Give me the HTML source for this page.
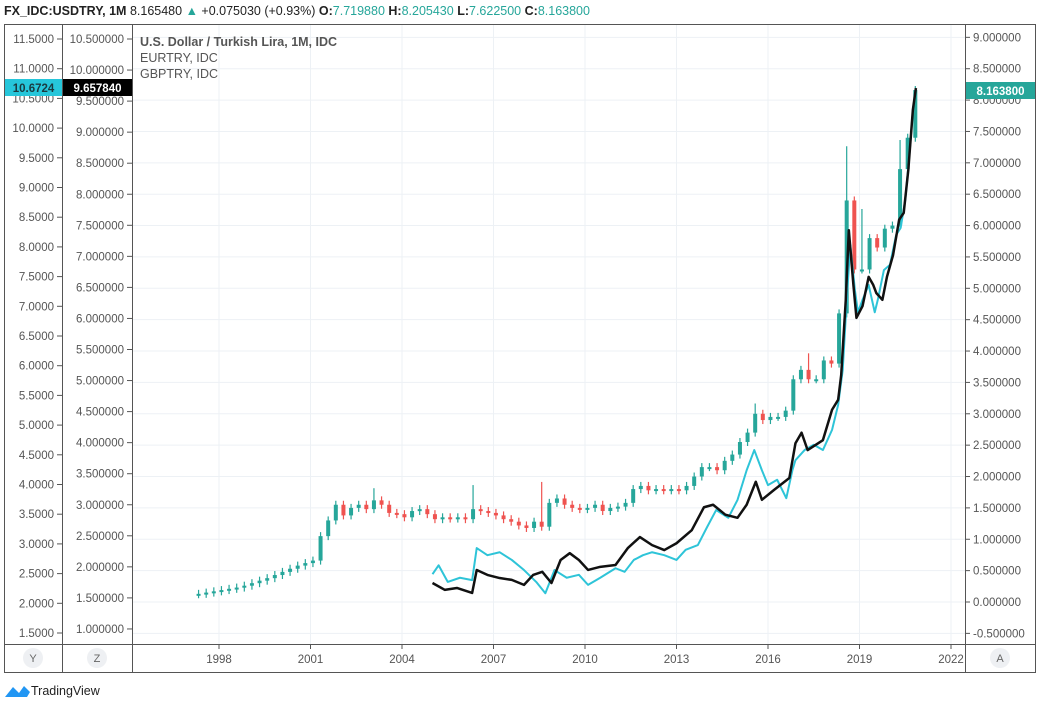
<!DOCTYPE html>
<html><head><meta charset="utf-8">
<style>
body{margin:0;width:1039px;height:703px;background:#fff;overflow:hidden;font-family:"Liberation Sans",sans-serif;}
svg{position:absolute;left:0;top:0;overflow:hidden}
</style></head>
<body>
<svg id="chart" width="1039" height="703"></svg>
<script>
// USDTRY quarterly closes (right axis), last candle at 2020.83
const usdEnd=2020.83;
const usdClose=[0.13,0.15,0.17,0.19,0.21,0.23,0.26,0.30,0.34,0.38,0.43,0.48,0.53,0.58,0.62,0.66,1.05,1.3,1.55,1.38,1.5,1.55,1.48,1.62,1.55,1.42,1.40,1.35,1.45,1.48,1.40,1.32,1.35,1.33,1.35,1.32,1.48,1.45,1.42,1.38,1.32,1.28,1.22,1.18,1.28,1.20,1.58,1.65,1.55,1.50,1.48,1.50,1.55,1.45,1.50,1.52,1.58,1.80,1.85,1.78,1.80,1.78,1.80,1.78,1.85,2.00,2.15,2.15,2.10,2.25,2.35,2.55,2.70,3.00,2.90,2.95,2.95,3.05,3.55,3.70,3.55,3.55,3.85,3.80,4.60,6.40,5.30,5.30,5.80,5.65,5.95,6.00,6.90,7.40,8.16];
const usdHighIdx=[85,87,92,36,45,23,73,80];
const usdHighVals=[7.2,6.2,7.3,1.8,1.85,1.75,3.1,3.9];
// EURTRY (Z axis)
const eurDates=[2005.0,2005.4,2005.8,2006.3,2006.45,2006.8,2007.2,2007.6,2008.0,2008.3,2008.6,2008.9,2009.2,2009.5,2009.8,2010.1,2010.5,2011.0,2011.4,2011.8,2012.2,2012.6,2013.0,2013.5,2013.9,2014.2,2014.6,2015.0,2015.3,2015.6,2015.8,2016.2,2016.7,2016.9,2017.1,2017.3,2017.8,2018.1,2018.3,2018.4,2018.55,2018.65,2018.8,2018.9,2019.1,2019.3,2019.45,2019.55,2019.75,2019.9,2020.1,2020.3,2020.45,2020.6,2020.75,2020.85];
const eurVals=[1.74,1.63,1.66,1.58,1.95,1.87,1.82,1.79,1.71,1.87,1.92,1.74,2.11,2.22,2.11,1.95,2.0,2.03,2.30,2.48,2.35,2.27,2.38,2.59,2.96,3.0,2.84,2.79,3.0,3.37,3.08,3.24,3.43,3.99,4.16,3.88,4.04,4.53,4.69,5.09,6.30,7.42,6.54,6.01,6.2,6.67,6.54,6.41,6.30,6.67,7.02,7.59,7.70,8.39,9.36,9.71];
// GBPTRY (Y axis)
const gbpDates=[2005.0,2005.2,2005.5,2005.9,2006.3,2006.45,2006.8,2007.2,2007.6,2008.0,2008.4,2008.7,2009.0,2009.4,2009.8,2010.1,2010.5,2011.0,2011.3,2011.6,2011.9,2012.2,2012.6,2013.0,2013.3,2013.7,2014.0,2014.3,2014.7,2015.0,2015.3,2015.55,2015.8,2016.0,2016.3,2016.6,2016.8,2016.9,2017.2,2017.5,2017.8,2018.1,2018.3,2018.45,2018.6,2018.7,2018.85,2018.95,2019.1,2019.3,2019.5,2019.6,2019.8,2020.0,2020.2,2020.35,2020.5,2020.65,2020.75,2020.85];
const gbpVals=[2.49,2.64,2.36,2.43,2.39,2.93,2.81,2.86,2.73,2.56,2.36,2.17,2.56,2.43,2.48,2.31,2.43,2.59,2.53,2.73,2.81,2.86,2.81,2.73,2.90,2.98,3.28,3.57,3.44,3.74,4.24,4.58,4.24,3.99,4.08,3.77,4.24,4.41,4.58,4.67,4.58,4.92,5.34,5.93,7.27,8.03,7.27,6.90,7.11,7.36,6.90,7.11,7.61,7.70,8.20,8.32,8.79,9.63,10.3,10.67];
const rightTicks=[9,8.5,8,7.5,7,6.5,6,5.5,5,4.5,4,3.5,3,2.5,2,1.5,1,0.5,0,-0.5];
const yTicks=[11.5,11,10.5,10,9.5,9,8.5,8,7.5,7,6.5,6,5.5,5,4.5,4,3.5,3,2.5,2,1.5];
const zTicks=[10.5,10,9.5,9,8.5,8,7.5,7,6.5,6,5.5,5,4.5,4,3.5,3,2.5,2,1.5,1];
const years=[1998,2001,2004,2007,2010,2013,2016,2019,2022];

const X=t=>219+(t-1998)*30.5;
const YR=v=>602-v*62.74;
const YZ=v=>39+(10.5-v)*62.1;
const YY=v=>39+(11.5-v)*59.4;
const svg=document.getElementById('chart');
const NS='http://www.w3.org/2000/svg';
function el(tag,attrs,parent){const e=document.createElementNS(NS,tag);for(const k in attrs)e.setAttribute(k,attrs[k]);(parent||svg).appendChild(e);return e;}
function txt(s,attrs,parent){const e=el('text',attrs,parent);e.textContent=s;return e;}

const defs=el('defs',{});
const cp=el('clipPath',{id:'plotclip'},defs);
el('rect',{x:133,y:25,width:832,height:619},cp);

// grid
const grid=el('g',{});


rightTicks.forEach(v=>el('line',{x1:132,x2:965,y1:YR(v),y2:YR(v),stroke:'#edf1f5','stroke-width':1},grid));
years.forEach(y=>el('line',{x1:X(y),x2:X(y),y1:24,y2:644,stroke:'#edf1f5','stroke-width':1},grid));

// frame
const fr=el('g',{stroke:'#555',fill:'none','stroke-width':1});


el('rect',{x:4.5,y:24.5,width:1031,height:648},fr);
[62.5,132.5,965.5].forEach(x=>el('line',{x1:x,x2:x,y1:24,y2:672},fr));
el('line',{x1:4,x2:1036,y1:644.5,y2:644.5},fr);

// axes
const fs={'font-size':11.5,fill:'#555','font-family':'Liberation Sans, sans-serif'};
const ya=el('g',{});


yTicks.forEach(v=>{el('line',{x1:57,x2:62,y1:YY(v),y2:YY(v),stroke:'#555'},ya);txt(v.toFixed(4),Object.assign({x:54,y:YY(v)+4,'text-anchor':'end'},fs),ya);});
const za=el('g',{});


zTicks.forEach(v=>{el('line',{x1:127,x2:132,y1:YZ(v),y2:YZ(v),stroke:'#555'},za);txt(v.toFixed(6),Object.assign({x:124,y:YZ(v)+4,'text-anchor':'end'},fs),za);});
const ra=el('g',{});


rightTicks.forEach(v=>{el('line',{x1:965,x2:970,y1:YR(v),y2:YR(v),stroke:'#555'},ra);txt(v.toFixed(6),Object.assign({x:973,y:YR(v)+4},fs),ra);});
const xa=el('g',{});


years.forEach(y=>{el('line',{x1:X(y),x2:X(y),y1:644,y2:649,stroke:'#555'},xa);txt(String(y),Object.assign({x:X(y),y:663,'text-anchor':'middle'},fs),xa);});

const plot=el('g',{'clip-path':'url(#plotclip)'});


// candles
const cg=el('g',{},plot);


const n=usdClose.length;
for(let i=0;i<n;i++){
  const t=usdEnd-(n-1-i)*0.25;
  const o=i?usdClose[i-1]:usdClose[0]*0.95,c=usdClose[i];
  const col=c>=o?'#26a69a':'#ef5350';
  const x=X(t);
  const hi_i=usdHighIdx.indexOf(i);
  const hi=hi_i>=0?usdHighVals[hi_i]:Math.max(o,c);
  const yTop=YR(Math.max(o,c)),yBot=YR(Math.min(o,c));
  el('line',{x1:x,x2:x,y1:YR(hi)-4,y2:yBot+4,stroke:col,'stroke-width':1.2},cg);
  el('rect',{x:x-2,y:yTop,width:4,height:Math.max(2,yBot-yTop),fill:col},cg);
}
// lines
function line(d,v,f,col,w,name){const p=el('polyline',{points:d.map((t,i)=>X(t)+','+f(v[i])).join(' '),fill:'none',stroke:col,'stroke-width':w,'stroke-linejoin':'round'},plot);

}
line(gbpDates,gbpVals,YY,'#2ec4d8',2,'gbptry-line');
line(eurDates,eurVals,YZ,'#111',2.5,'eurtry-line');

// price labels
function tag(x,y,w,bg,s,name,col){const g=el('g',{});


el('rect',{x:x,y:y-9,width:w,height:17,fill:bg},g);txt(s,{x:x+w/2,y:y+4,'text-anchor':'middle','font-size':11.5,'font-weight':'bold',fill:col||'#fff'},g);}
tag(5,88,57,'#26c6da','10.6724','gbp-price-label','#1a3a40');
tag(63,88,69,'#000','9.657840','eur-price-label');
tag(966,91,69,'#26a69a','8.163800','usd-price-label');

// legend
const lg=el('g',{'font-size':12.5,fill:'#555'});


txt('U.S. Dollar / Turkish Lira, 1M, IDC',{x:140,y:46,'font-weight':'bold'},lg);
txt('EURTRY, IDC',{x:140,y:62},lg);
txt('GBPTRY, IDC',{x:140,y:78},lg);

// header
const hd=el('text',{x:4,y:15,'font-size':12.5,fill:'#222'});


[['FX_IDC:USDTRY, 1M ','#222',1],['8.165480 ','#222',0],['▲ ','#26a69a',0],['+0.075030 (+0.93%) ','#222',0],['O:','#222',1],['7.719880 ','#26a69a',0],['H:','#222',1],['8.205430 ','#26a69a',0],['L:','#222',1],['7.622500 ','#26a69a',0],['C:','#222',1],['8.163800','#26a69a',0]].forEach(([s,c,b])=>{const t=el('tspan',{fill:c,'font-weight':b?'bold':'normal'},hd);t.textContent=s;});

// axis buttons
[[33,'Y','y-axis-button'],[97,'Z','z-axis-button'],[1000,'A','auto-scale-button']].forEach(([x,s,nm])=>{const g=el('g',{});


el('circle',{cx:x,cy:658,r:10,fill:'#eef0f3'},g);txt(s,{x:x,y:662,'text-anchor':'middle','font-size':11,fill:'#666'},g);});

// logo
const lo=el('g',{});


el('path',{d:'M5 697 L13 687 L19 693 L24 686 L30 692 L27 697 Z',fill:'#2196f3'},lo);
txt('TradingView',{x:31,y:695,'font-size':12.5,fill:'#222'},lo);
</script>
</body></html>
